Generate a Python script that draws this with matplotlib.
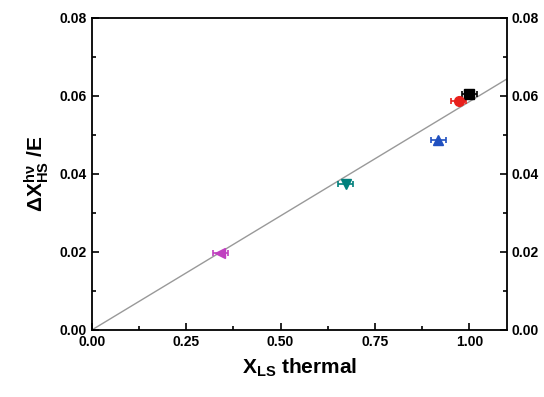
import matplotlib
matplotlib.use("Agg")
import matplotlib.pyplot as plt
import numpy as np
from matplotlib.ticker import MultipleLocator

plt.rcParams['font.family'] = ['Liberation Sans', 'DejaVu Sans']
plt.rcParams['font.weight'] = 'bold'
plt.rcParams['mathtext.fontset'] = 'custom'
plt.rcParams['mathtext.rm'] = 'Liberation Sans:bold'
plt.rcParams['mathtext.it'] = 'Liberation Sans:bold'
plt.rcParams['mathtext.bf'] = 'Liberation Sans:bold'

# data
x_ls = [1.00, 0.972, 0.918, 0.673, 0.340]
dx_e = [0.0605, 0.0587, 0.0487, 0.0374, 0.0196]
x_err = [0.02, 0.02, 0.02, 0.02, 0.02]
markers = ['s', 'o', '^', 'v', '<']
colors = ['#000000', '#e8201c', '#2050c0', '#00807c', '#c040c0']
fit_slope = 0.0585

fig = plt.figure(figsize=(5.44, 3.97), dpi=100)
ax = fig.add_axes([0.169, 0.169, 0.763, 0.786])

xl = np.array([0.0, 1.1])
ax.plot(xl, fit_slope * xl, color='#999999', lw=1.0, zorder=1)

for x, y, e, m, c in zip(x_ls, dx_e, x_err, markers, colors):
    ax.errorbar(x, y, xerr=e, fmt=m, color=c, ms=7, capsize=2.5,
                elinewidth=1.2, capthick=1.2, zorder=3)

ax.set_xlim(0, 1.1)
ax.set_ylim(0, 0.08)
ax.xaxis.set_major_locator(MultipleLocator(0.25))
ax.xaxis.set_minor_locator(MultipleLocator(0.125))
ax.yaxis.set_major_locator(MultipleLocator(0.02))
ax.yaxis.set_minor_locator(MultipleLocator(0.01))
ax.xaxis.set_major_formatter(matplotlib.ticker.FormatStrFormatter('%.2f'))
ax.yaxis.set_major_formatter(matplotlib.ticker.FormatStrFormatter('%.2f'))
ax.tick_params(which='both', direction='in', right=True, labelright=True,
               labelsize=10, width=1.2)
ax.tick_params(which='major', length=5)
ax.tick_params(which='minor', length=3)
for s in ax.spines.values():
    s.set_linewidth(1.3)

ax.set_xlabel(r'X$_{\mathrm{LS}}$ thermal', fontsize=15, fontweight='bold', labelpad=6)
ax.set_ylabel(r'$\Delta$X$^{\mathrm{h\nu}}_{\mathrm{HS}}$ /E', fontsize=15,
              fontweight='bold', labelpad=6)

fig.savefig('out.png', dpi=100)
